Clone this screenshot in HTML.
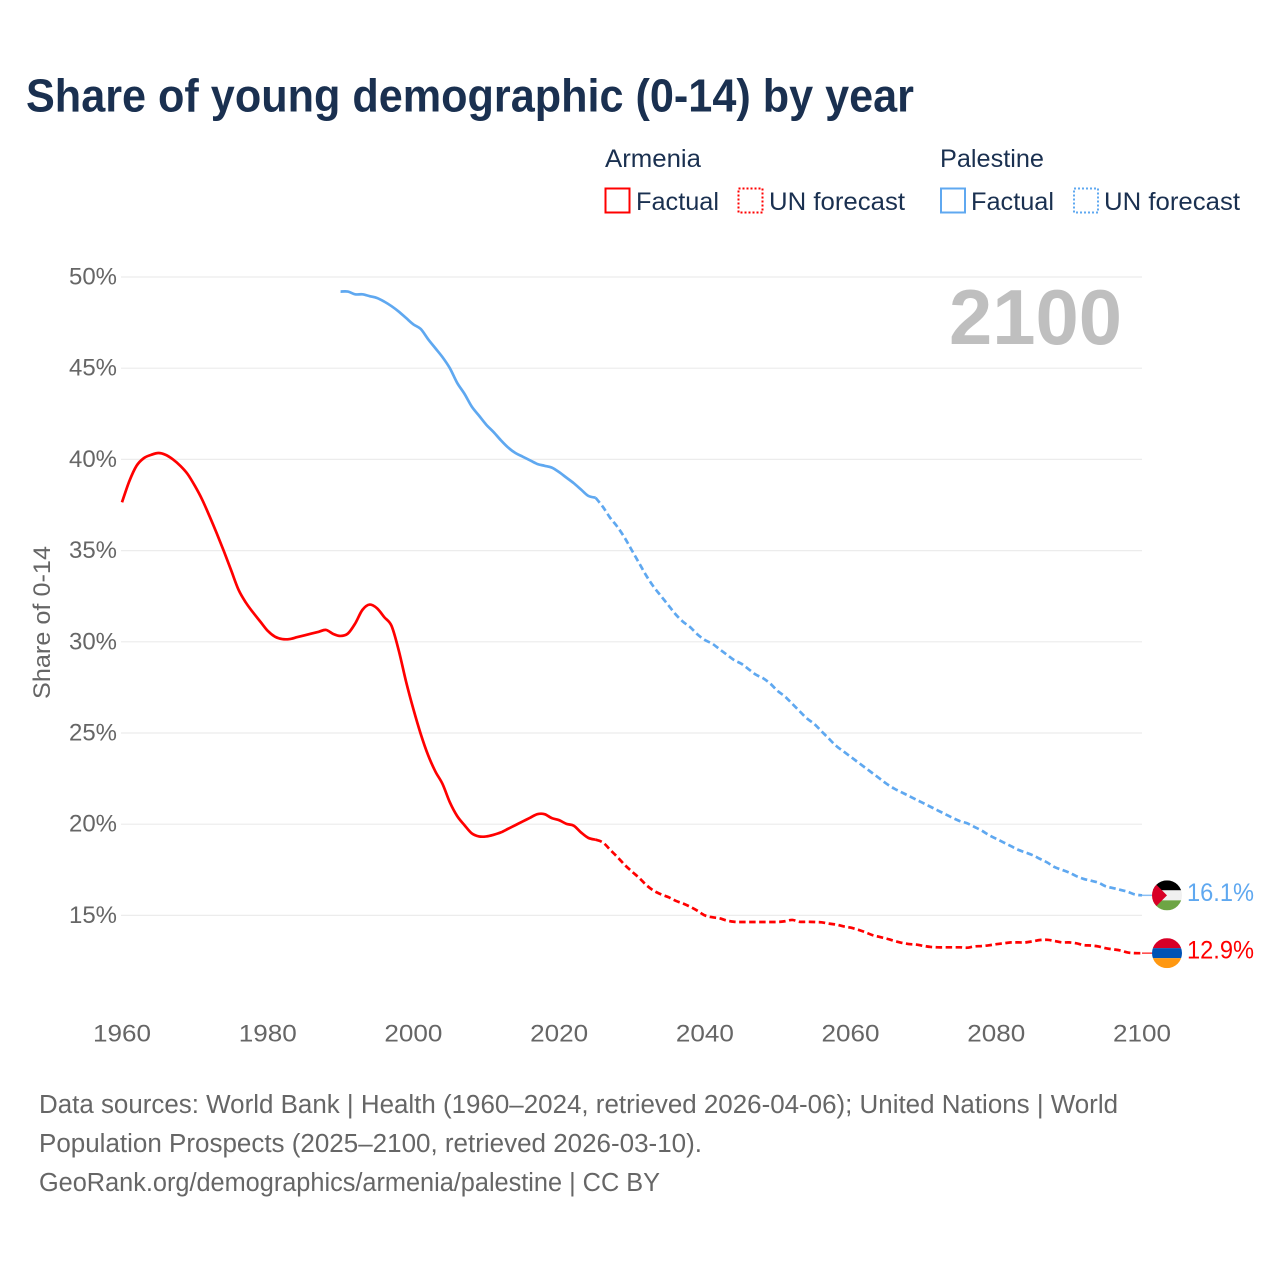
<!DOCTYPE html>
<html lang="en">
<head>
<meta charset="utf-8">
<title>Share of young demographic (0-14) by year</title>
<style>
html,body{margin:0;padding:0;background:#fff;}
svg{display:block;font-family:"Liberation Sans",sans-serif;}
.legend{font-size:25px;fill:#1a3050;}
.foot{font-size:25.5px;fill:#666;}
.tick{font-size:24.5px;fill:#666;}
</style>
</head>
<body>
<svg id="chart" xmlns="http://www.w3.org/2000/svg" width="1280" height="1280" viewBox="0 0 1280 1280">
  <rect width="1280" height="1280" fill="#ffffff"/>
  <text x="26" y="111.5" font-size="46" font-weight="700" fill="#1a3050" textLength="888" lengthAdjust="spacingAndGlyphs">Share of young demographic (0-14) by year</text>

  <g>
    <text class="legend" x="605" y="167" textLength="96" lengthAdjust="spacingAndGlyphs">Armenia</text>
    <rect x="605.5" y="188.5" width="24" height="24" fill="none" stroke="#ff0000" stroke-width="2"/>
    <text class="legend" x="636" y="210" textLength="83" lengthAdjust="spacingAndGlyphs">Factual</text>
    <rect x="738.5" y="188.5" width="24" height="24" fill="none" stroke="#ff0000" stroke-width="2" stroke-dasharray="2 2"/>
    <text class="legend" x="769" y="210" textLength="136" lengthAdjust="spacingAndGlyphs">UN forecast</text>
    <text class="legend" x="940" y="167" textLength="104" lengthAdjust="spacingAndGlyphs">Palestine</text>
    <rect x="941" y="188.5" width="24" height="24" fill="none" stroke="#5fa8f0" stroke-width="2"/>
    <text class="legend" x="971" y="210" textLength="83" lengthAdjust="spacingAndGlyphs">Factual</text>
    <rect x="1074" y="188.5" width="24" height="24" fill="none" stroke="#5fa8f0" stroke-width="2" stroke-dasharray="2 2"/>
    <text class="legend" x="1104" y="210" textLength="136" lengthAdjust="spacingAndGlyphs">UN forecast</text>
  </g>

  <g id="grid"></g>
  <g id="yticks"></g>
  <g id="xticks"></g>
  <text class="tick" transform="translate(50 699) rotate(-90)" x="0" y="0" textLength="153" lengthAdjust="spacingAndGlyphs">Share of 0-14</text>
  <text x="949" y="344" font-size="78" font-weight="700" fill="#bfbfbf" textLength="173" lengthAdjust="spacingAndGlyphs">2100</text>

  <defs>
    <clipPath id="flag-clip"><circle cx="0" cy="0" r="15"/></clipPath>
  </defs>
  <g id="series"></g>
  <g id="flag-palestine">
    <g clip-path="url(#flag-clip)">
      <rect x="-15" y="-15" width="30" height="10" fill="#000000"/>
      <rect x="-15" y="-5" width="30" height="10" fill="#f0f0f0"/>
      <rect x="-15" y="5" width="30" height="10" fill="#6da544"/>
      <polygon points="-15,-15 -15,15 0,0" fill="#d80027"/>
    </g>
  </g>
  <g id="flag-armenia">
    <g clip-path="url(#flag-clip)">
      <rect x="-15" y="-15" width="30" height="10" fill="#d80027"/>
      <rect x="-15" y="-5" width="30" height="10" fill="#0052b4"/>
      <rect x="-15" y="5" width="30" height="10" fill="#ff9811"/>
    </g>
  </g>
  <g id="endlabels"></g>

  <g>
    <text class="foot" x="39" y="1113" textLength="1079" lengthAdjust="spacingAndGlyphs">Data sources: World Bank | Health (1960–2024, retrieved 2026-04-06); United Nations | World</text>
    <text class="foot" x="39" y="1152" textLength="663" lengthAdjust="spacingAndGlyphs">Population Prospects (2025–2100, retrieved 2026-03-10).</text>
    <text class="foot" x="39" y="1191" textLength="621" lengthAdjust="spacingAndGlyphs">GeoRank.org/demographics/armenia/palestine | CC BY</text>
  </g>
</svg>
<script>
const yTickValues = [50, 45, 40, 35, 30, 25, 20, 15];
const xTickValues = [1960, 1980, 2000, 2020, 2040, 2060, 2080, 2100];
const armeniaFactualStart = 1960;
const armeniaFactual = [
  37.65,38.8,39.65,40.07,40.25,40.35,40.25,40.0,39.65,39.2,
  38.55,37.8,36.9,35.95,34.95,33.9,32.85,32.15,31.6,31.1,
  30.6,30.28,30.15,30.15,30.25,30.35,30.45,30.55,30.65,30.43,
  30.32,30.45,31.0,31.75,32.04,31.84,31.35,30.87,29.5,27.8,
  26.3,24.95,23.8,22.9,22.2,21.2,20.45,19.95,19.5,19.33,
  19.33,19.42,19.55,19.75,19.95,20.15,20.35,20.55,20.55,20.33,
  20.22,20.02,19.92,19.55,19.25,19.15
];
const forecastStart = 2025;
const armeniaForecast = [
  19.15,19.0,18.6,18.2,17.77,17.4,17.05,16.65,16.35,16.15,
  16.0,15.8,15.65,15.47,15.25,15.0,14.9,14.84,14.72,14.65,
  14.64,14.64,14.64,14.64,14.64,14.64,14.68,14.75,14.65,14.65,
  14.64,14.62,14.55,14.5,14.4,14.33,14.22,14.08,13.92,13.82,
  13.72,13.6,13.5,13.43,13.4,13.33,13.27,13.25,13.25,13.25,
  13.25,13.23,13.3,13.32,13.36,13.42,13.47,13.52,13.52,13.52,
  13.58,13.65,13.66,13.6,13.52,13.52,13.47,13.37,13.35,13.3,
  13.2,13.14,13.08,12.97,12.93,12.93
];
const palestineFactualStart = 1990;
const palestineFactual = [
  49.2,49.2,49.05,49.05,48.95,48.85,48.65,48.4,48.1,47.75,
  47.4,47.15,46.6,46.1,45.6,45.0,44.2,43.6,42.9,42.4,
  41.9,41.5,41.05,40.65,40.35,40.15,39.95,39.75,39.65,39.55,
  39.3,39.0,38.7,38.35,38.0,37.9
];
const palestineForecast = [
  37.9,37.4,36.8,36.3,35.7,35.0,34.3,33.6,33.0,32.5,
  32.0,31.5,31.1,30.8,30.4,30.1,29.9,29.6,29.3,29.0,
  28.8,28.5,28.2,28.0,27.7,27.3,27.0,26.6,26.2,25.8,
  25.5,25.1,24.7,24.3,24.0,23.7,23.4,23.1,22.8,22.5,
  22.2,21.95,21.75,21.55,21.35,21.15,20.95,20.75,20.55,20.35,
  20.17,20.05,19.85,19.65,19.4,19.2,19.0,18.8,18.6,18.45,
  18.3,18.1,17.9,17.65,17.5,17.35,17.15,17.0,16.9,16.8,
  16.6,16.5,16.4,16.3,16.15,16.1
];

const NS = 'http://www.w3.org/2000/svg';
const X0 = 122, X1 = 1142, YEAR0 = 1960, YEAR1 = 2100;
const Y50 = 277, Y15 = 915.4;
function xScale(year) { return X0 + (year - YEAR0) * (X1 - X0) / (YEAR1 - YEAR0); }
function yScale(pct) { return Y15 + (pct - 15) * (Y50 - Y15) / (50 - 15); }
function pathFor(values, startYear) {
  const pts = values.map(function (v, i) { return [xScale(startYear + i), yScale(v)]; });
  let d = 'M' + pts[0][0].toFixed(2) + ' ' + pts[0][1].toFixed(2);
  for (let i = 0; i < pts.length - 1; i++) {
    const p0 = pts[Math.max(i - 1, 0)], p1 = pts[i], p2 = pts[i + 1], p3 = pts[Math.min(i + 2, pts.length - 1)];
    const c1x = p1[0] + (p2[0] - p0[0]) / 6, c1y = p1[1] + (p2[1] - p0[1]) / 6;
    const c2x = p2[0] - (p3[0] - p1[0]) / 6, c2y = p2[1] - (p3[1] - p1[1]) / 6;
    d += ' C' + c1x.toFixed(2) + ' ' + c1y.toFixed(2) + ' ' + c2x.toFixed(2) + ' ' + c2y.toFixed(2) + ' ' + p2[0].toFixed(2) + ' ' + p2[1].toFixed(2);
  }
  return d;
}
function make(tag, parentId) {
  const el = document.createElementNS(NS, tag);
  document.getElementById(parentId).appendChild(el);
  return el;
}

yTickValues.forEach(function (v) {
  const line = make('line', 'grid');
  
  
  line.setAttribute('x1', X0 - 1);
  line.setAttribute('x2', X1);
  line.setAttribute('y1', yScale(v));
  line.setAttribute('y2', yScale(v));
  line.setAttribute('stroke', '#ececec');
  line.setAttribute('stroke-width', '1.2');
  const label = make('text', 'yticks');
  
  
  label.setAttribute('class', 'tick');
  label.setAttribute('x', 69);
  label.setAttribute('y', yScale(v) + 7.5);
  label.setAttribute('textLength', 48);
  label.setAttribute('lengthAdjust', 'spacingAndGlyphs');
  label.textContent = v + '%';
});

xTickValues.forEach(function (v) {
  const label = make('text', 'xticks');
  
  
  label.setAttribute('class', 'tick');
  label.setAttribute('x', xScale(v) - 29);
  label.setAttribute('y', 1041.5);
  label.setAttribute('textLength', 58);
  label.setAttribute('lengthAdjust', 'spacingAndGlyphs');
  label.textContent = v;
});

function drawLine(values, startYear, color, dashed, name) {
  const p = make('path', 'series');
  
  
  p.setAttribute('d', pathFor(values, startYear));
  p.setAttribute('fill', 'none');
  p.setAttribute('stroke', color);
  p.setAttribute('stroke-width', '2.7');
  p.setAttribute('stroke-linejoin', 'round');
  if (dashed) p.setAttribute('stroke-dasharray', '6.5 3.5');
}
const RED = '#ff0000', BLUE = '#5fa8f0';
drawLine(armeniaFactual, armeniaFactualStart, RED, false, 'line-armenia-factual');
drawLine(armeniaForecast, forecastStart, RED, true, 'line-armenia-forecast');
drawLine(palestineFactual, palestineFactualStart, BLUE, false, 'line-palestine-factual');
drawLine(palestineForecast, forecastStart, BLUE, true, 'line-palestine-forecast');

function drawEnd(values, color, flagId, name) {
  const last = values[values.length - 1];
  const y = yScale(last);
  const lead = make('line', 'series');
  
  
  lead.setAttribute('x1', X1);
  lead.setAttribute('x2', X1 + 12);
  lead.setAttribute('y1', y);
  lead.setAttribute('y2', y);
  lead.setAttribute('stroke', color);
  lead.setAttribute('stroke-width', '1.5');
  lead.setAttribute('opacity', '0.75');
  document.getElementById(flagId).setAttribute('transform', 'translate(' + (X1 + 25) + ' ' + y + ')');
  const t = make('text', 'endlabels');
  
  
  t.setAttribute('x', X1 + 45);
  t.setAttribute('y', y + 5.5);
  t.setAttribute('font-size', '25');
  t.setAttribute('fill', color);
  t.setAttribute('textLength', '67');
  t.setAttribute('lengthAdjust', 'spacingAndGlyphs');
  t.textContent = last.toFixed(1) + '%';
}
drawEnd(palestineForecast, BLUE, 'flag-palestine', 'end-palestine');
drawEnd(armeniaForecast, RED, 'flag-armenia', 'end-armenia');
</script>
</body>
</html>
